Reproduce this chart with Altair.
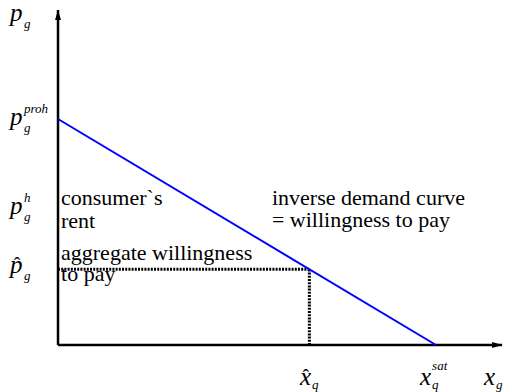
import altair as alt
import pandas as pd

# --- values (economic units) ---
x_sat = 10.0          # saturation quantity
p_proh = 10.0         # prohibitive price
x_hat = 6.65          # chosen quantity
p_hat = 3.35          # price at x_hat
x_axis_end = 11.75
y_axis_end = 14.82

# demand line
demand_x = [0.0, x_sat]
demand_p = [p_proh, 0.0]

# annotation text lines
ann_text = ["consumer`s", "rent", "aggregate willingness", "to pay",
            "inverse demand curve", "= willingness to pay"]
ann_x = [0.08, 0.08, 0.08, 0.08, 5.66, 5.66]
ann_y = [6.19, 5.18, 3.76, 2.84, 6.19, 5.22]

# y-axis labels
ylab_y = [14.34, 9.73, 5.80, 3.19]
ylab_sub = ["g", "g", "g", "g"]
ylab_sup = ["", "proh", "h", ""]
ylab_hat = [False, False, False, True]
ylab_x = -1.27

# x-axis labels
xlab_x = [6.40, 9.58, 11.27]
xlab_sub = ["q", "q", "g"]
xlab_sup = ["", "sat", ""]
xlab_hat = [True, False, False]
xlab_y = -1.77

XD = [-1.323, 11.799]
YD = [-2.080, 14.912]
xs = alt.Scale(domain=XD, nice=False, zero=False)
ys = alt.Scale(domain=YD, nice=False, zero=False)
SERIF = "Liberation Serif"


def X(f):
    return alt.X(f, type="quantitative", scale=xs, axis=None)


def Y(f):
    return alt.Y(f, type="quantitative", scale=ys, axis=None)


layers = []

# axes lines
axes_df = pd.DataFrame({"x": [0.0, 0.0], "y": [0.0, 0.0],
                        "x2": [0.0, x_axis_end], "y2": [y_axis_end, 0.0]})
layers.append(alt.Chart(axes_df).mark_rule(color="black", strokeWidth=2.5).encode(
    x=X("x"), y=Y("y"), x2="x2", y2="y2"))

# arrowheads
up = pd.DataFrame({"x": [0.0], "y": [y_axis_end]})
right = pd.DataFrame({"x": [x_axis_end], "y": [0.0]})
layers.append(alt.Chart(up).mark_point(shape="M0,0L0.6,2L-0.6,2Z", size=100, filled=True,
                                       color="black", opacity=1).encode(x=X("x"), y=Y("y")))
layers.append(alt.Chart(right).mark_point(shape="M0,0L-2,-0.6L-2,0.6Z", size=100, filled=True,
                                          color="black", opacity=1).encode(x=X("x"), y=Y("y")))

# dotted guides
dots = pd.DataFrame({"x": [0.0, x_hat], "y": [p_hat, 0.0],
                     "x2": [x_hat, x_hat], "y2": [p_hat, p_hat]})
layers.append(alt.Chart(dots).mark_rule(color="black", strokeWidth=3, strokeDash=[2, 1.2]).encode(
    x=X("x"), y=Y("y"), x2="x2", y2="y2"))

# demand line
dem = pd.DataFrame({"x": demand_x, "p": demand_p})
layers.append(alt.Chart(dem).mark_line(color="#0000ff", strokeWidth=2).encode(
    x=X("x"), y=Y("p")))

# annotations
ann = pd.DataFrame({"x": ann_x, "y": ann_y, "t": ann_text})
layers.append(alt.Chart(ann).mark_text(font=SERIF, fontSize=22, align="left",
                                       baseline="alphabetic", color="black").encode(
    x=X("x"), y=Y("y"), text="t:N"))

# y labels
yl = pd.DataFrame({"x": [ylab_x] * 4, "y": ylab_y, "sub": ylab_sub, "sup": ylab_sup,
                   "hat": ["ˆ" if h else "" for h in ylab_hat], "base": ["p"] * 4})
layers.append(alt.Chart(yl).mark_text(font=SERIF, fontSize=25, fontStyle="italic", align="left",
                                      baseline="alphabetic").encode(x=X("x"), y=Y("y"), text="base:N"))
layers.append(alt.Chart(yl).mark_text(font=SERIF, fontSize=13, fontStyle="italic", align="left",
                                      baseline="alphabetic", dx=14, dy=7).encode(x=X("x"), y=Y("y"), text="sub:N"))
layers.append(alt.Chart(yl).mark_text(font=SERIF, fontSize=13, fontStyle="italic", align="left",
                                      baseline="alphabetic", dx=14, dy=-12).encode(x=X("x"), y=Y("y"), text="sup:N"))
layers.append(alt.Chart(yl).mark_text(font=SERIF, fontSize=20, align="center",
                                      baseline="alphabetic", dx=7, dy=-1).encode(x=X("x"), y=Y("y"), text="hat:N"))

# x labels
xl = pd.DataFrame({"x": xlab_x, "y": [xlab_y] * 3, "sub": xlab_sub, "sup": xlab_sup,
                   "hat": ["ˆ" if h else "" for h in xlab_hat], "base": ["x"] * 3})
layers.append(alt.Chart(xl).mark_text(font=SERIF, fontSize=25, fontStyle="italic", align="left",
                                      baseline="alphabetic").encode(x=X("x"), y=Y("y"), text="base:N"))
layers.append(alt.Chart(xl).mark_text(font=SERIF, fontSize=13, fontStyle="italic", align="left",
                                      baseline="alphabetic", dx=12, dy=4).encode(x=X("x"), y=Y("y"), text="sub:N"))
layers.append(alt.Chart(xl).mark_text(font=SERIF, fontSize=13, fontStyle="italic", align="left",
                                      baseline="alphabetic", dx=12, dy=-15).encode(x=X("x"), y=Y("y"), text="sup:N"))
layers.append(alt.Chart(xl).mark_text(font=SERIF, fontSize=20, align="center",
                                      baseline="alphabetic", dx=6, dy=-1).encode(x=X("x"), y=Y("y"), text="hat:N"))

chart = alt.layer(*layers).properties(
    width=496, height=384, padding=0,
    autosize=alt.AutoSizeParams(type="none"),
    background="white",
).configure_view(stroke=None)

chart.save("out.html", embed_options={"renderer": "svg", "actions": False})
